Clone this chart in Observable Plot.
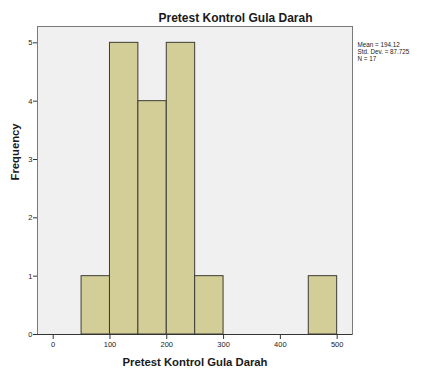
<!DOCTYPE html>
<html>
<head>
<meta charset="utf-8">
<script src="https://cdn.jsdelivr.net/npm/d3@7"></script>
<script src="https://cdn.jsdelivr.net/npm/@observablehq/plot@0.6"></script>
<style>
  html, body { margin: 0; padding: 0; background: #fff; }
</style>
</head>
<body>
<div id="chart"></div>
<script>
// Histogram bins (lower edge, upper edge) and their frequencies
const binLow = [50, 100, 150, 200, 250, 450];
const binHigh = [100, 150, 200, 250, 300, 500];
const frequency = [1, 5, 4, 5, 1, 1];

const xTicks = [0, 100, 200, 300, 400, 500];
const yTicks = [0, 1, 2, 3, 4, 5];

const title = "Pretest Kontrol Gula Darah";
const xLabel = "Pretest Kontrol Gula Darah";
const yLabel = "Frequency";
const statLines = ["Mean = 194.12", "Std. Dev. = 87.725", "N = 17"];

const bins = binLow.map((lo, i) => ({lo, hi: binHigh[i], n: frequency[i]}));

const font = "'Liberation Sans', Arial, sans-serif";
const ink = "#1a1a1a";

const chart = Plot.plot({
  width: 425,
  height: 372,
  marginTop: 26,
  marginLeft: 37,
  marginRight: 73,
  marginBottom: 38,
  style: {fontFamily: font, background: "#fff", color: ink},
  x: {domain: [-27.6, 527]},
  y: {domain: [0, 5.28]},
  marks: [
    Plot.frame({fill: "#f0f0f0", stroke: "none"}),
    Plot.rectY(bins, {
      x1: "lo", x2: "hi", y: "n",
      fill: "#d3ce97", stroke: "#3c3c34", strokeWidth: 1
    }),
    Plot.frame({stroke: "#7a7a7a", strokeWidth: 1}),
    Plot.ruleY([0], {stroke: "#333"}),
    Plot.axisX({ticks: xTicks, tickFormat: d3.format("d"), tickSize: 5, tickPadding: 2, fontSize: 7.5, label: null, stroke: "#333", fill: ink}),
    Plot.axisY({ticks: yTicks, tickFormat: d3.format("d"), tickSize: 4, tickPadding: 1, fontSize: 7.5, label: null, stroke: "#333", fill: ink}),
    Plot.text([title], {
      frameAnchor: "top-left", dx: 198, dy: -5, lineAnchor: "bottom",
      textAnchor: "middle", fontSize: 12, fontWeight: "bold", fill: ink
    }),
    Plot.text([statLines.join("\n")], {
      frameAnchor: "top-right", dx: 5, dy: 16, lineAnchor: "top",
      textAnchor: "start", fontSize: 6.3, lineHeight: 1.1, fill: ink
    }),
    Plot.text([xLabel], {
      frameAnchor: "bottom", dy: 31, lineAnchor: "bottom",
      fontSize: 11.3, fontWeight: "bold", fill: ink
    }),
    Plot.text([yLabel], {
      frameAnchor: "left", dx: -19, rotate: -90, lineAnchor: "bottom",
      fontSize: 11.3, fontWeight: "bold", fill: ink
    })
  ]
});

document.getElementById("chart").append(chart);
</script>
</body>
</html>
